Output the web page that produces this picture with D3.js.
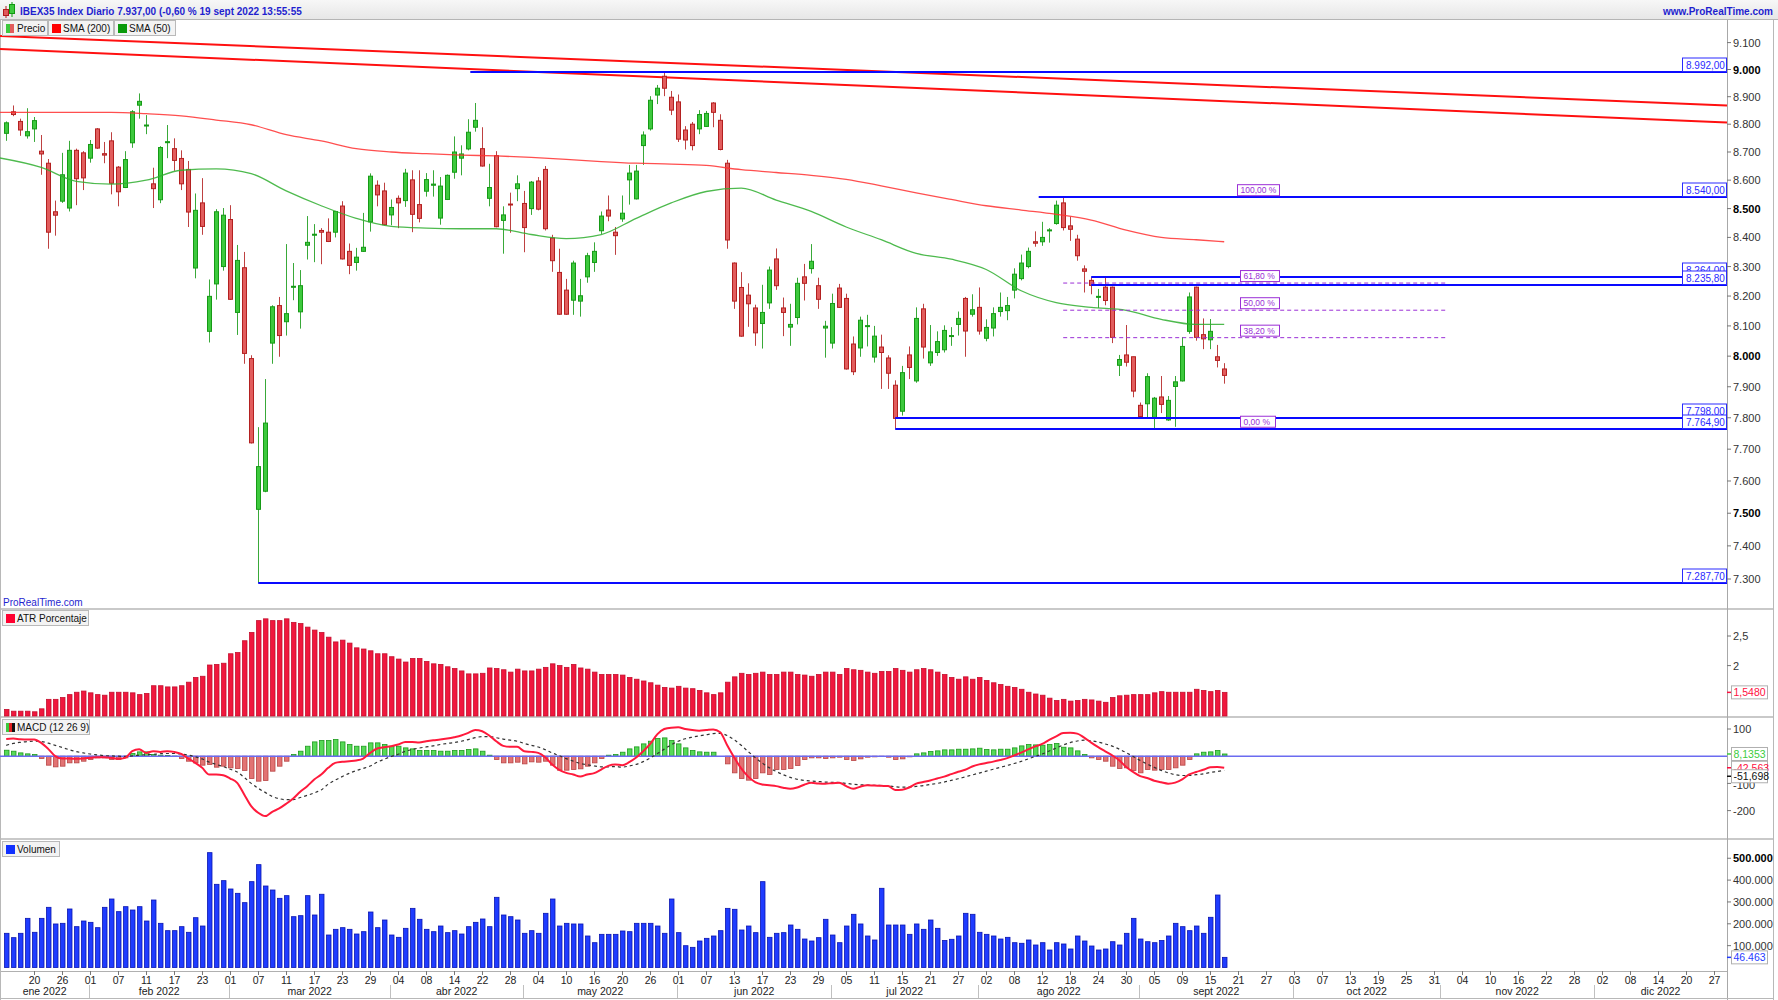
<!DOCTYPE html>
<html lang="es"><head><meta charset="utf-8"><title>IBEX35</title>
<script src="https://cdn.jsdelivr.net/npm/d3@7/dist/d3.min.js"></script>
<style>
html,body{margin:0;padding:0;background:#fff;overflow:hidden}
svg{display:block}
text{font-family:"Liberation Sans",Arial,sans-serif}
</style></head><body>
<svg id="chart" width="1778" height="1000"></svg>
<script>
// ================= DATA =================
const startDate = "2022-01-14";
const endDate = "2022-12-31";
const holidays = ["2022-04-15","2022-04-18","2022-12-26"];

const open=[8767,8845,8810,8758,8783,8703,8660,8489,8526,8502,
8706,8697,8678,8783,8694,8740,8646,8574,8733,8869,
8794,8587,8531,8735,8712,8677,8638,8295,8520,8082,
8241,8300,8462,8145,8296,7992,7512,7568,8043,8168,
8114,8230,8147,8373,8409,8424,8418,8418,8509,8352,
8314,8352,8454,8582,8562,8478,8536,8528,8601,8514,
8561,8582,8467,8532,8628,8678,8711,8789,8712,8536,
8687,8459,8516,8570,8518,8500,8597,8638,8398,8280,
8220,8186,8183,8265,8314,8423,8495,8418,8464,8601,
8534,8723,8783,8906,8975,8898,8881,8779,8800,8783,
8792,8877,8814,8660,8312,8229,8203,8160,8108,8177,
8326,8160,8096,8128,8265,8293,8235,8093,8043,8227,
8192,8040,8027,8098,7997,8030,7994,7905,7821,8004,
7919,8157,7978,8012,8021,8065,8105,8192,8139,8162,
8059,8093,8148,8151,8220,8259,8300,8385,8385,8424,
8448,8520,8440,8394,8292,8253,8197,8230,8230,7970,
8004,7998,7840,7845,7798,7867,7793,7901,7919,8082,
8230,8071,8054,7998,7958];
const high=[8810,8868,8820,8858,8826,8761,8675,8528,8697,8740,
8712,8703,8743,8786,8736,8771,8650,8703,8851,8912,
8833,8644,8721,8797,8749,8706,8668,8553,8607,8256,
8498,8502,8512,8374,8350,8003,7770,7925,8169,8197,
8377,8312,8288,8474,8446,8432,8466,8492,8526,8379,
8364,8485,8624,8599,8591,8532,8546,8640,8635,8635,
8625,8635,8611,8620,8756,8724,8818,8877,8789,8658,
8703,8508,8556,8617,8562,8597,8611,8650,8409,8361,
8258,8320,8258,8347,8383,8490,8546,8436,8546,8654,
8654,8774,8902,8943,8992,8921,8908,8793,8808,8851,
8848,8880,8836,8672,8314,8281,8243,8171,8238,8300,
8362,8195,8174,8262,8309,8377,8262,8117,8208,8241,
8208,8065,8131,8137,8100,8071,8003,7921,7968,8032,
8162,8174,8103,8082,8102,8096,8148,8197,8206,8229,
8122,8162,8212,8197,8294,8341,8365,8421,8454,8432,
8528,8540,8472,8409,8304,8264,8224,8265,8232,8004,
8103,7998,7849,7944,7867,7935,7870,7935,8063,8212,
8232,8125,8123,8037,7977];
const low=[8740,8829,8758,8748,8736,8619,8361,8406,8520,8490,
8512,8565,8662,8711,8660,8550,8508,8572,8715,8820,
8764,8502,8519,8678,8633,8565,8436,8260,8409,8045,
8188,8286,8187,8070,7975,7718,7288,7565,7975,7998,
8068,8186,8091,8324,8315,8308,8384,8400,8324,8274,
8286,8350,8420,8508,8442,8442,8432,8506,8418,8452,
8542,8542,8444,8530,8605,8617,8706,8773,8648,8508,
8435,8344,8416,8526,8349,8478,8494,8424,8282,8137,
8137,8137,8131,8245,8282,8412,8456,8340,8454,8514,
8532,8654,8777,8873,8902,8833,8736,8709,8706,8764,
8790,8789,8706,8361,8157,8064,8097,8034,8025,8157,
8221,8066,8034,8105,8185,8276,8157,7995,8025,8160,
7956,7938,7998,8032,7979,7893,7893,7765,7807,7925,
7913,7992,7968,8001,8012,8034,8068,7998,8131,8071,
8049,8065,8131,8119,8192,8253,8294,8368,8371,8382,
8444,8424,8388,8320,8212,8206,8160,8169,8043,7935,
7966,7866,7798,7798,7765,7815,7790,7771,7917,8074,
8051,8023,8023,7963,7910];
const close=[8805,8835,8779,8773,8813,8693,8418,8477,8619,8706,
8605,8608,8727,8714,8689,8589,8559,8673,8845,8883,
8797,8570,8716,8737,8670,8587,8488,8494,8438,8199,
8489,8477,8189,8321,8009,7720,7645,7783,8164,8068,
8141,8233,8235,8383,8411,8418,8386,8490,8326,8304,
8332,8366,8614,8548,8444,8504,8520,8625,8480,8466,
8602,8586,8579,8617,8700,8693,8771,8814,8650,8574,
8437,8478,8513,8587,8434,8593,8498,8430,8320,8139,
8139,8312,8201,8337,8352,8474,8474,8406,8484,8625,
8632,8761,8887,8931,8931,8851,8746,8743,8723,8835,
8839,8843,8709,8391,8183,8066,8174,8077,8145,8288,
8235,8145,8105,8243,8243,8318,8189,8099,8175,8162,
7958,7949,8119,8101,8066,8012,7944,7798,7946,7963,
8125,8030,8014,8048,8085,8068,8125,8083,8154,8083,
8095,8141,8162,8168,8274,8312,8352,8380,8400,8426,
8512,8434,8428,8337,8284,8236,8199,8185,8062,7989,
7980,7886,7804,7933,7863,7843,7856,7916,8032,8197,
8062,8057,8082,7986,7937];

// moving averages read at sampled bar positions
const smaIdx=[-1,5,10,15,20,25,30,35,40,45,50,55,60,65,70,75,80,85,90,95,100,105,110,115,120,125,130,135,140,145,150,155,160,165,170,174];
const sma200=[8843,8843,8843,8843,8838,8830,8815,8798,8762,8740,8712,8700,8694,8689,8686,8681,8674,8666,8660,8657,8652,8637,8627,8617,8603,8580,8555,8532,8510,8495,8480,8460,8425,8400,8392,8385];
const sma50=[8679,8645,8596,8586,8600,8635,8640,8623,8562,8510,8466,8438,8432,8430,8430,8410,8396,8410,8466,8520,8560,8572,8530,8490,8436,8392,8345,8325,8290,8218,8178,8162,8152,8122,8105,8105];

const atr=[1.26,1.23,1.23,1.23,1.22,1.27,1.43,1.43,1.46,1.51,
1.55,1.57,1.54,1.51,1.50,1.55,1.55,1.55,1.54,1.51,
1.53,1.66,1.66,1.64,1.64,1.66,1.72,1.80,1.82,2.01,
2.02,2.04,2.20,2.22,2.42,2.56,2.76,2.79,2.76,2.76,
2.79,2.73,2.71,2.65,2.60,2.56,2.48,2.40,2.43,2.38,
2.30,2.28,2.25,2.20,2.20,2.15,2.11,2.06,2.12,2.12,
2.07,2.03,2.02,1.98,1.95,1.91,1.86,1.86,1.87,1.96,
1.95,1.93,1.89,1.94,1.91,1.91,1.94,1.97,2.03,2.00,
1.97,2.02,1.96,1.94,1.89,1.85,1.85,1.85,1.84,1.80,
1.77,1.74,1.71,1.67,1.63,1.62,1.65,1.62,1.61,1.58,
1.54,1.51,1.54,1.72,1.81,1.87,1.85,1.87,1.89,1.85,
1.85,1.89,1.89,1.85,1.84,1.82,1.85,1.89,1.89,1.85,
1.95,1.93,1.92,1.89,1.87,1.90,1.90,1.95,1.92,1.89,
1.93,1.95,1.93,1.89,1.85,1.80,1.77,1.81,1.77,1.80,
1.75,1.71,1.68,1.65,1.63,1.60,1.55,1.52,1.50,1.45,
1.41,1.43,1.40,1.41,1.43,1.42,1.40,1.38,1.46,1.49,
1.50,1.51,1.51,1.51,1.54,1.56,1.55,1.55,1.55,1.55,
1.60,1.58,1.56,1.58,1.548];

const macd=[63.6,64.9,62.4,61.2,61.2,49.0,26.9,0,-8.6,-8.6,
-9.8,-8.6,-6.1,-3.7,-3.7,-6.1,-9.8,-6.1,18.4,25.7,
12.2,18.4,15.9,18.4,15.9,8.6,-8.6,-24.5,-42.8,-67.3,
-67.3,-69.8,-82.0,-97.9,-140.8,-183.6,-208.1,-220.3,-204.4,-192.2,
-175.0,-155.4,-131.0,-110.2,-85.7,-67.3,-42.8,-24.5,-20.8,-18.4,
-15.9,-8.6,12.2,28.2,33.0,36.7,42.8,52.6,52.6,50.2,
55.1,58.8,61.2,64.9,69.8,75.9,85.7,96.7,91.8,75.9,
55.1,37.9,34.3,34.3,18.4,15.9,12.2,-3.7,-30.6,-50.2,
-61.2,-67.3,-74.7,-67.3,-62.4,-49.0,-35.5,-30.6,-33,-22,
-5,18,45,80,100,105,106,100,96,94,
96,98,88,40,-5,-45,-75,-95,-104,-107,
-110,-116,-120,-115,-105,-98,-100,-101,-99,-98,
-110,-120,-112,-107,-108,-109,-110,-124,-123,-115,
-101,-95,-89,-82,-75,-66,-57,-50,-38,-30,
-25,-20,-14,-7,3,13,25,36,45,60,
73,85,86,83,68,50,33,18,3,-15,
-40,-58,-73,-80,-90,-96,-101,-97,-85,-67,
-58,-50,-41,-40,-42.563];
const signal=[40,47,51,54,55,54,48,40,32,24,
17,12,8,5,2,1,0,-1,1,4,
5,7,9,10,10,8,4,-2,-10,-22,
-30,-38,-48,-58,-78,-100,-118,-133,-148,-156,
-160,-160,-152,-144,-135,-124,-103,-88,-75,-63,
-53,-45,-36,-22,-11,-1,7,18,25,30,
34,38,43,47,50,55,61,68,72,72,
68,63,59,55,47,40,34,24,12,2,
-9,-18,-27,-31,-36,-39,-39,-38,-40,-36,
-30,-20,-7,9,26,42,55,64,70,75,
79,83,84,76,60,40,17,-5,-25,-42,
-56,-68,-78,-85,-89,-91,-93,-95,-96,-97,
-100,-103,-105,-106,-107,-108,-109,-112,-114,-114,
-111,-108,-104,-100,-95,-89,-83,-76,-69,-62,
-55,-48,-41,-34,-27,-19,-10,-1,8,19,
30,41,50,56,59,57,52,45,37,26,
13,-1,-16,-29,-41,-52,-61,-68,-71,-71,
-68,-65,-60,-56,-51.698];
const hist=[22.0,18.4,12.2,8.6,6.1,-8.6,-33,-39.2,-36.7,-24.5,
-24.5,-18.4,-12.2,-6.1,-6.1,-12.2,-12.2,-6.1,9.8,15.9,
15.9,6.1,3.7,2.4,0.5,-8.6,-18.4,-24.5,-33,-30.6,
-40.4,-36.7,-42.8,-45.3,-52.6,-82,-91.8,-89.4,-55.1,-36.7,
-18.4,6.1,18.4,36.7,52.6,57.5,57.5,61.2,52.6,42.8,
36.7,36.7,49,49,42.8,36.7,36.7,30.6,26.9,20.8,
20.8,20.8,18.4,18.4,20.8,20.8,24.5,26.9,18.4,3.7,
-12.2,-24.5,-24.5,-22,-28.2,-20.8,-22,-18.4,-33,-51.4,
-51.4,-49,-46.5,-36.7,-24.5,-8.6,3.7,6.1,14.7,26.9,
34.3,45.3,55.1,64.9,67.3,57.5,45.3,30.6,20.8,15.9,
14.7,14.7,0,-28.2,-61.2,-82,-88.1,-82,-61.2,-67.3,
-49,-49,-45.3,-34.3,-12.2,-6.1,-6.1,-8.6,-6.1,-3.7,
-12.2,-15.9,-9.8,-3.7,-2.4,-1.2,-3.7,-12.2,-9.8,-2.4,
8.6,12.2,17.1,19.6,23.3,23.3,25.7,25.7,26.9,29.4,
24.5,23.3,25.7,25.7,30.6,37.9,42.8,41.6,40.4,42.8,
46.5,33,30.6,19.6,6.1,-6.1,-12.2,-18.4,-36.7,-45.3,
-42.8,-52.6,-61.2,-49,-51.4,-49,-49,-42.8,-33,-12.2,
8.6,14.7,15.9,20.8,8.1353];

const volume=[156500,136600,156500,225000,161100,225000,275400,199200,202200,267800,
186900,212800,206700,182300,275400,313500,255600,278400,263100,278400,
212800,308900,202200,168600,168600,186900,161100,228000,189900,525600,
380700,397500,359300,339500,296800,392900,470700,373000,354700,316600,
328800,232600,237200,328800,240300,335200,148700,174700,182300,174700,
153300,164000,254000,182300,217400,148700,138100,179300,270700,220600,
174700,164000,189900,159500,168600,153300,186900,206700,222000,186900,
321200,240300,232600,217400,156500,168600,156500,248000,313500,189900,
202200,199200,199200,144200,113600,151800,151800,151800,167100,164000,
202200,202200,202200,189900,156500,313500,159500,99800,92300,121300,
133500,144200,168600,270700,266300,171600,189900,159500,392900,138100,
156500,159500,194500,174700,130400,121300,136600,220600,148700,113600,
189900,243500,199200,144200,125900,362500,194500,194500,194500,151800,
199200,174700,217400,179300,123600,129100,144200,248000,243500,161100,
151800,144200,130400,138100,113600,110800,125900,103000,113600,80100,
113600,107600,84700,144200,121300,98400,80100,84700,118100,103000,
156500,225000,130400,118100,113600,123600,144200,202200,186900,168600,
189900,156500,229800,331800,46463];

const tickDates=["2022-01-20","2022-01-26","2022-02-01","2022-02-07","2022-02-11","2022-02-17","2022-02-23",
"2022-03-01","2022-03-07","2022-03-11","2022-03-17","2022-03-23","2022-03-29",
"2022-04-04","2022-04-08","2022-04-14","2022-04-22","2022-04-28",
"2022-05-04","2022-05-10","2022-05-16","2022-05-20","2022-05-26",
"2022-06-01","2022-06-07","2022-06-13","2022-06-17","2022-06-23","2022-06-29",
"2022-07-05","2022-07-11","2022-07-15","2022-07-21","2022-07-27",
"2022-08-02","2022-08-08","2022-08-12","2022-08-18","2022-08-24","2022-08-30",
"2022-09-05","2022-09-09","2022-09-15","2022-09-21","2022-09-27",
"2022-10-03","2022-10-07","2022-10-13","2022-10-19","2022-10-25","2022-10-31",
"2022-11-04","2022-11-10","2022-11-16","2022-11-22","2022-11-28",
"2022-12-02","2022-12-08","2022-12-14","2022-12-20","2022-12-27"];
const monthLabels=["ene 2022","feb 2022","mar 2022","abr 2022","may 2022","jun 2022","jul 2022","ago 2022","sept 2022","oct 2022","nov 2022","dic 2022"];

const priceTicks=[9100,9000,8900,8800,8700,8600,8500,8400,8300,8200,8100,8000,7900,7800,7700,7600,7500,7400,7300];
const atrTicks=[2.5,2];
const macdTicks=[100,-100,-200];
const volTicks=[500000,400000,300000,200000,100000];

const levelPrices=[8992,8540,8264,8235.8,7798,7764.9,7287.7];
const levelLabels=["8.992,00","8.540,00","8.264,00","8.235,80","7.798,00","7.764,90","7.287,70"];
const levelStart=[66.3,147.5,155,155,127,127,36];

const fibPct=[100,61.8,50,38.2,0];
const fibLabels=["100,00 %","61,80 %","50,00 %","38,20 %","0,00 %"];
const fibLow=7764.9, fibHigh=8540, fibStart=151, fibEnd=206;

const trendStart=[9125,9076];   // price at left edge
const trendEnd=[8868,8806];     // price at axis

// ================= LAYOUT =================
const W=1778, H=1000, AX=1727;
const P={top:20,bot:609}, A={top:609,bot:717}, M={top:717,bot:839}, V={top:839,bot:971};
const N=close.length;
const svg=d3.select("#chart");

// trading calendar (x categories)
const days=[];
{let t=Date.parse(startDate+"T00:00:00Z");const e=Date.parse(endDate+"T00:00:00Z");
 while(t<=e){const d=new Date(t);const wd=d.getUTCDay();const s=d.toISOString().slice(0,10);
  if(wd!==0&&wd!==6&&!holidays.includes(s))days.push(s);t+=86400000;}}
const dayIndex=new Map(days.map((d,i)=>[d,i]));

const x=d3.scaleLinear().domain([0,174]).range([6.2,1224.2]);
const yP=d3.scaleLog().domain([7300,9000]).range([579,69.5]);
const yA=d3.scaleLinear().domain([2,2.5]).range([665.6,636]);
const yM=d3.scaleLinear().domain([0,100]).range([756.2,729]);
const yV=d3.scaleLinear().domain([0,100000]).range([967.5,945.65]);

const defs=svg.append("defs");
defs.append("clipPath").attr("id","cp").append("rect").attr("x",0).attr("y",P.top).attr("width",AX).attr("height",P.bot-P.top);
defs.append("clipPath").attr("id","cm").append("rect").attr("x",0).attr("y",M.top).attr("width",AX).attr("height",M.bot-M.top);
const hg=defs.append("linearGradient").attr("id","hg").attr("x1",0).attr("y1",0).attr("x2",0).attr("y2",1);
hg.append("stop").attr("offset","0").attr("stop-color","#f7f7f7");
hg.append("stop").attr("offset","1").attr("stop-color","#e6e6e6");

svg.append("rect").attr("width",W).attr("height",H).attr("fill","#fff");

// ---- header ----
svg.append("rect").attr("x",0).attr("y",0).attr("width",W).attr("height",P.top).attr("fill","url(#hg)");
svg.append("line").attr("x1",0).attr("x2",W).attr("y1",P.top-0.5).attr("y2",P.top-0.5).attr("stroke","#b5b5b5");
svg.append("line").attr("x1",6).attr("x2",6).attr("y1",6).attr("y2",18).attr("stroke","#b01c1c");
svg.append("rect").attr("x",3.5).attr("y",9.5).attr("width",5).attr("height",6).attr("fill","#e05a5a").attr("stroke","#b01c1c");
svg.append("line").attr("x1",12).attr("x2",12).attr("y1",2).attr("y2",17).attr("stroke","#119911");
svg.append("rect").attr("x",9.5).attr("y",4.5).attr("width",5).attr("height",9).attr("fill","#3dc93d").attr("stroke","#119911");
svg.append("text").attr("x",20).attr("y",15).attr("font-size",10).attr("font-weight","bold").attr("fill","#1f1fcf")
  .text("IBEX35 Index Diario 7.937,00 (-0,60 % 19 sept 2022 13:55:55");
svg.append("text").attr("x",1773).attr("y",15).attr("text-anchor","end").attr("font-size",10).attr("font-weight","bold").attr("fill","#1f1fcf")
  .text("www.ProRealTime.com");

// ---- panel separators & frame ----
[A.top,M.top,V.top].forEach(y=>svg.append("line").attr("x1",0).attr("x2",1773).attr("y1",y).attr("y2",y).attr("stroke","#c9c9c9").attr("stroke-width",2));
svg.append("line").attr("x1",0).attr("x2",AX).attr("y1",V.bot+0.5).attr("y2",V.bot+0.5).attr("stroke","#b0b0b0");
svg.append("line").attr("x1",AX+0.5).attr("x2",AX+0.5).attr("y1",P.top).attr("y2",H).attr("stroke","#a8a8a8");
svg.append("line").attr("x1",0.5).attr("x2",0.5).attr("y1",P.top).attr("y2",H).attr("stroke","#b8b8b8");
svg.append("line").attr("x1",1773.5).attr("x2",1773.5).attr("y1",P.top).attr("y2",H).attr("stroke","#b8b8b8");
svg.append("line").attr("x1",0).attr("x2",1774).attr("y1",998.5).attr("y2",998.5).attr("stroke","#b8b8b8");

// ================= PRICE PANEL =================
const gp=svg.append("g").attr("clip-path","url(#cp)");
for(let k=0;k<2;k++){
  gp.append("line").attr("x1",0).attr("y1",yP(trendStart[k])).attr("x2",AX).attr("y2",yP(trendEnd[k]))
    .attr("stroke","#ff1010").attr("stroke-width",2);
}
const up="#3dc93d", upS="#169a16", dn="#e25d5d", dnS="#b32020";
const cg=gp.append("g");
d3.range(N).forEach(i=>{
  const o=open[i],c=close[i],isUp=c>=o;
  const cx=Math.round(x(i))+0.5;
  cg.append("line").attr("x1",cx).attr("x2",cx).attr("y1",yP(high[i])).attr("y2",yP(low[i]))
    .attr("stroke",isUp?upS:dnS).attr("stroke-opacity",0.85);
  const y1=yP(Math.max(o,c)), y2=yP(Math.min(o,c));
  cg.append("rect").attr("x",cx-2).attr("y",y1).attr("width",4).attr("height",Math.max(1,y2-y1))
    .attr("fill",isUp?up:dn).attr("stroke",isUp?upS:dnS).attr("stroke-width",1);
});
const smaLine=d3.line().x(d=>x(d[0])).y(d=>yP(d[1])).curve(d3.curveMonotoneX);
gp.append("path").attr("d",smaLine(smaIdx.map((d,i)=>[d,sma200[i]]))).attr("fill","none").attr("stroke","#ff3030").attr("stroke-width",1.3).attr("stroke-opacity",0.85);
gp.append("path").attr("d",smaLine(smaIdx.map((d,i)=>[d,sma50[i]]))).attr("fill","none").attr("stroke","#2fae2f").attr("stroke-width",1.3).attr("stroke-opacity",0.85);

const fibCol="#9b2fd6";
fibPct.forEach((p,k)=>{
  const pr=fibLow+(fibHigh-fibLow)*p/100, yy=yP(pr);
  gp.append("line").attr("x1",x(fibStart)).attr("x2",x(fibEnd)).attr("y1",yy).attr("y2",yy)
    .attr("stroke",fibCol).attr("stroke-width",1).attr("stroke-dasharray","4,3");
});
levelPrices.forEach((p,k)=>{
  const yy=Math.round(yP(p));
  gp.append("line").attr("x1",x(levelStart[k])).attr("x2",AX).attr("y1",yy).attr("y2",yy)
    .attr("stroke","#0a0aff").attr("stroke-width",2);
});
const fibW=[43,40,40,40,36], fibR=[1280,1280,1280,1280,1276];
fibPct.forEach((p,k)=>{
  const pr=fibLow+(fibHigh-fibLow)*p/100, yy=yP(pr);
  const bx=fibR[k]-fibW[k];
  gp.append("rect").attr("x",bx+0.5).attr("y",yy-12.5).attr("width",fibW[k]-1).attr("height",11).attr("fill","#fff").attr("stroke",fibCol);
  gp.append("text").attr("x",bx+3.5).attr("y",yy-3.8).attr("font-size",8.5).attr("fill",fibCol).text(fibLabels[k]);
});
levelPrices.forEach((p,k)=>{
  const yy=Math.round(yP(p));
  svg.append("rect").attr("x",1682.5).attr("y",yy-14).attr("width",44).attr("height",13.5).attr("fill","#fff").attr("stroke","#2a2aff");
  svg.append("text").attr("x",1686).attr("y",yy-3.5).attr("font-size",10).attr("fill","#2a2aff").text(levelLabels[k]);
});
svg.append("text").attr("x",3).attr("y",606).attr("font-size",10).attr("fill","#1f1fcf").text("ProRealTime.com");

const fmtK=v=>{const s=String(Math.round(v));return s.length>3?s.slice(0,s.length-3)+"."+s.slice(-3):s;};
priceTicks.forEach(t=>{
  const yy=yP(t);
  svg.append("line").attr("x1",AX).attr("x2",AX+4).attr("y1",yy).attr("y2",yy).attr("stroke","#777");
  svg.append("text").attr("x",AX+6).attr("y",yy+4).attr("font-size",11)
    .attr("font-weight",t%500===0?"bold":"normal").attr("fill",t%500===0?"#000":"#333").text(fmtK(t));
});

function legendBox(x0,y0,w,label,drawIcon){
  svg.append("rect").attr("x",x0+0.5).attr("y",y0+0.5).attr("width",w).attr("height",15).attr("fill","#f3f3f3").attr("stroke","#b9b9b9");
  drawIcon(x0+4,y0+4);
  svg.append("text").attr("x",x0+15).attr("y",y0+12).attr("font-size",10).attr("fill","#111").text(label);
}
legendBox(2,20,45,"Precio",(a,b)=>{svg.append("rect").attr("x",a).attr("y",b).attr("width",4).attr("height",9).attr("fill","#3dc93d");svg.append("rect").attr("x",a+4).attr("y",b).attr("width",4).attr("height",9).attr("fill","#e25d5d");});
legendBox(48,20,65,"SMA (200)",(a,b)=>svg.append("rect").attr("x",a).attr("y",b).attr("width",9).attr("height",9).attr("fill","#ff0000"));
legendBox(114,20,61,"SMA (50)",(a,b)=>svg.append("rect").attr("x",a).attr("y",b).attr("width",9).attr("height",9).attr("fill","#0a9a0a"));

// ================= ATR =================
const ga=svg.append("g");
d3.range(N).forEach(i=>{
  const cx=Math.round(x(i))+0.5, yy=yA(atr[i]);
  ga.append("rect").attr("x",cx-2).attr("y",yy).attr("width",4.5).attr("height",A.bot-1-yy)
    .attr("fill","#f0173d").attr("stroke","#c4102e").attr("stroke-width",0.8);
});
atrTicks.forEach(t=>{const yy=yA(t);
  svg.append("line").attr("x1",AX).attr("x2",AX+4).attr("y1",yy).attr("y2",yy).attr("stroke","#777");
  svg.append("text").attr("x",AX+6).attr("y",yy+4).attr("font-size",11).attr("fill","#333").text(String(t).replace(".",","));});
legendBox(2,610,86,"ATR Porcentaje",(a,b)=>svg.append("rect").attr("x",a).attr("y",b).attr("width",9).attr("height",9).attr("fill","#ff0030"));

// ================= MACD =================
const gm=svg.append("g").attr("clip-path","url(#cm)");
d3.range(N).forEach(i=>{
  const v=hist[i]; if(Math.abs(v)<0.3)return;
  const cx=Math.round(x(i))+0.5, y0=yM(0), y1=yM(v);
  gm.append("rect").attr("x",cx-2).attr("y",Math.min(y0,y1)).attr("width",4.5).attr("height",Math.abs(y1-y0))
    .attr("fill",v>=0?"#57d957":"#e27373").attr("stroke",v>=0?"#1d9a1d":"#b84545").attr("stroke-width",0.8);
});
gm.append("line").attr("x1",0).attr("x2",AX).attr("y1",yM(0)).attr("y2",yM(0)).attr("stroke","#6b6bf0").attr("stroke-width",1.5);
const mLine=d3.line().x((d,i)=>x(i)).y(d=>yM(d)).curve(d3.curveMonotoneX);
gm.append("path").attr("d",mLine(signal)).attr("fill","none").attr("stroke","#333").attr("stroke-width",1.2).attr("stroke-dasharray","3,3");
gm.append("path").attr("d",mLine(macd)).attr("fill","none").attr("stroke","#ff1a3c").attr("stroke-width",2);
macdTicks.forEach(t=>{const yy=yM(t);
  svg.append("line").attr("x1",AX).attr("x2",AX+4).attr("y1",yy).attr("y2",yy).attr("stroke","#777");
  svg.append("text").attr("x",AX+6).attr("y",yy+(t===-100?6:4)).attr("font-size",11).attr("fill","#333").text(t);});
legendBox(2,719,87,"MACD (12 26 9)",(a,b)=>{svg.append("rect").attr("x",a).attr("y",b).attr("width",3).attr("height",9).attr("fill","#3dc93d");svg.append("rect").attr("x",a+3).attr("y",b).attr("width",3).attr("height",9).attr("fill","#e02020");svg.append("rect").attr("x",a+6).attr("y",b).attr("width",3).attr("height",9).attr("fill","#111");});

// ================= VOLUME =================
const gv=svg.append("g");
d3.range(N).forEach(i=>{
  const cx=Math.round(x(i))+0.5, yy=yV(volume[i]);
  gv.append("rect").attr("x",cx-2).attr("y",yy).attr("width",4.5).attr("height",yV(0)-yy)
    .attr("fill","#1f3cff").attr("stroke","#0a14b0").attr("stroke-width",0.8);
});
volTicks.forEach(t=>{const yy=yV(t);
  svg.append("line").attr("x1",AX).attr("x2",AX+4).attr("y1",yy).attr("y2",yy).attr("stroke","#777");
  svg.append("text").attr("x",AX+6).attr("y",yy+4).attr("font-size",11).attr("font-weight",t===500000?"bold":"normal").attr("fill",t===500000?"#000":"#333").text(fmtK(t));});
legendBox(2,841,57,"Volumen",(a,b)=>svg.append("rect").attr("x",a).attr("y",b).attr("width",9).attr("height",9).attr("fill","#1030ff"));

// ---- value boxes on right axis ----
function valBox(yc,txt,col){
  svg.append("line").attr("x1",AX).attr("x2",AX+4).attr("y1",yc).attr("y2",yc).attr("stroke",col).attr("stroke-width",1.5);
  svg.append("rect").attr("x",AX+4.5).attr("y",yc-6.5).attr("width",36).attr("height",13).attr("fill","#fff").attr("stroke","#b0b0b0");
  svg.append("text").attr("x",AX+6.5).attr("y",yc+4).attr("font-size",10.5).attr("fill",col).text(txt);
}
valBox(yA(atr[N-1]),"1,5480","#ff1040");
valBox(yM(hist[N-1]),"8,1353","#3ccc3c");
valBox(yM(macd[N-1]),"-42,563","#ff1040");
valBox(yM(signal[N-1])+6,"-51,698","#111");
valBox(yV(volume[N-1]),"46.463","#1f3cff");

// ================= X AXIS =================
const xf='"Liberation Sans Narrow","Liberation Sans",Arial,sans-serif';
tickDates.forEach(d=>{
  const i=dayIndex.get(d); if(i===undefined)return;
  const xx=Math.round(x(i))+0.5; if(xx>AX)return;
  svg.append("line").attr("x1",xx).attr("x2",xx).attr("y1",V.bot).attr("y2",V.bot+4).attr("stroke","#777");
  svg.append("text").attr("x",xx).attr("y",984).attr("text-anchor","middle").attr("font-size",10.5).attr("font-family",xf).attr("fill","#222").text(d.slice(8,10));
});
const monthStarts=[];
days.forEach((d,i)=>{const m=+d.slice(5,7); if(!monthStarts.length||monthStarts[monthStarts.length-1].m!==m) monthStarts.push({m,i});});
monthStarts.forEach((ms,k)=>{
  const xs=k===0?0:x(ms.i)-1;
  const xe=k<monthStarts.length-1?x(monthStarts[k+1].i)-1:AX;
  if(k>0) svg.append("line").attr("x1",Math.round(xs)+0.5).attr("x2",Math.round(xs)+0.5).attr("y1",985).attr("y2",998).attr("stroke","#c0c0c0");
  svg.append("text").attr("x",(xs+xe)/2).attr("y",995).attr("text-anchor","middle").attr("font-size",10.5).attr("font-family",xf).attr("fill","#222").text(monthLabels[ms.m-1]);
});
</script>
</body></html>
